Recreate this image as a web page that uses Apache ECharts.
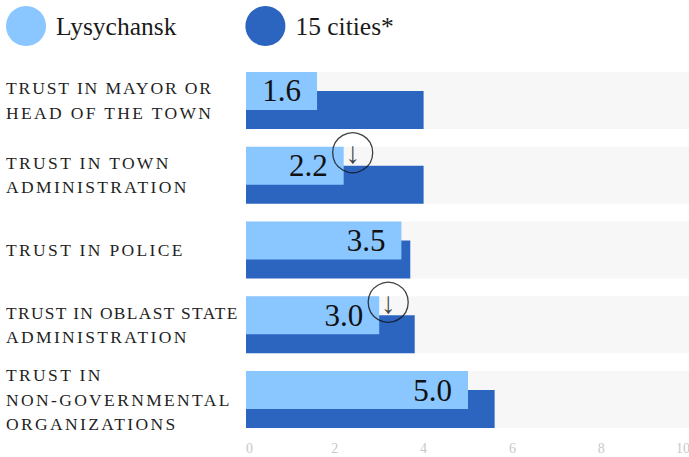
<!DOCTYPE html>
<html><head><meta charset="utf-8">
<style>
html,body{margin:0;padding:0;background:#fff;overflow:hidden}
#c{width:689px;height:457px}
text[style*="17.5px"]{letter-spacing:2.35px}
text[style*="17.4px"]{letter-spacing:1.35px}
text[style*="17.6px"]{letter-spacing:1.85px}
</style>
<script src="https://cdn.jsdelivr.net/npm/echarts@6/dist/echarts.min.js"></script>
</head><body><div id="c"></div>
<script>
const categories = ["TRUST IN MAYOR OR\nHEAD OF THE TOWN","TRUST IN TOWN\nADMINISTRATION","TRUST IN POLICE","TRUST IN OBLAST STATE\nADMINISTRATION","TRUST IN\nNON-GOVERNMENTAL\nORGANIZATIONS"];
const lysychansk = [1.6,2.2,3.5,3.0,5.0];
const cities = [4.0,4.0,3.7,3.8,5.6];
const scaleMax = [10,10,10,10,10];
const declines = [[2.2,categories[1]],[3.0,categories[3]]];
const seriesNames = ["Lysychansk","15 cities*"];
const F = '"Liberation Serif", serif';
const lineStyle = l => l.includes('OBLAST') ? 'b' : l.includes('MAYOR') ? 'c' : 'a';
const chart = echarts.init(document.getElementById('c'),null,{renderer:'svg'});
chart.setOption({
  animation:false,
  textStyle:{fontFamily:F},
  legend:{data:seriesNames,left:6,top:6,padding:0,itemWidth:40,itemHeight:40,icon:'circle',itemGap:69,selectedMode:false,
    textStyle:{fontFamily:F,fontSize:25.5,color:'#1a1a1a',padding:[0,0,0,5]}},
  grid:{left:246,top:63.1,width:444,height:373.8,outerBoundsMode:'none'},
  xAxis:{type:'value',min:0,max:10,interval:2,splitLine:{show:false},axisLine:{show:false},axisTick:{show:false},
    axisLabel:{color:'#c8c8c8',fontFamily:F,fontSize:14,margin:5,alignMinLabel:'left',alignMaxLabel:'right'}},
  yAxis:[
   {type:'category',inverse:true,data:categories,axisLine:{show:false},axisTick:{show:false},
    axisLabel:{margin:240,align:'left',color:'#1f1f1f',fontFamily:F,
      formatter:v=>v.split('\n').map(l=>`{${lineStyle(l)}|${l}}`).join('\n'),
      rich:{a:{fontFamily:F,fontSize:17.5,lineHeight:24.5,color:'#1f1f1f'},
            b:{fontFamily:F,fontSize:17.4,lineHeight:24.5,color:'#1f1f1f'},
            c:{fontFamily:F,fontSize:17.6,lineHeight:24.5,color:'#1f1f1f'}}}},
   {type:'category',inverse:true,data:categories,show:false}
  ],
  series:[
   {name:'scale',type:'bar',yAxisIndex:1,data:scaleMax,barWidth:57,itemStyle:{color:'#f7f7f7'},z:1,silent:true},
   {name:seriesNames[0],type:'bar',data:lysychansk,barWidth:38,barGap:'-50%',itemStyle:{color:'#8ac6ff'},z:3,
    label:{show:true,position:'insideRight',distance:16,color:'#111',fontFamily:F,fontSize:31,formatter:p=>p.value.toFixed(1)}},
   {name:seriesNames[1],type:'bar',data:cities,barWidth:38,itemStyle:{color:'#2b65c0'},z:2},
   {name:'decline',type:'scatter',data:declines,symbol:'circle',symbolSize:40,symbolOffset:[9,-22.5],z:5,
    itemStyle:{color:'rgba(0,0,0,0)',borderColor:'#111',borderWidth:1.3},
    label:{show:true,position:'inside',formatter:'↓',color:'#111',fontFamily:F,fontSize:30}}
  ]
});
</script></body></html>
